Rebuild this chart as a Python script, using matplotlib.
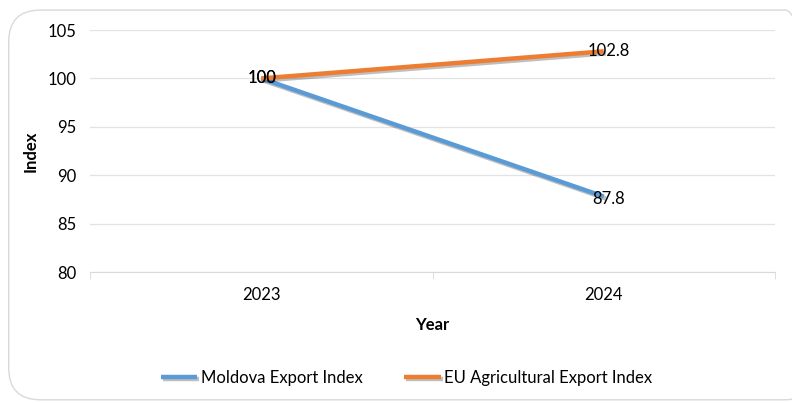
import matplotlib.pyplot as plt
import matplotlib.patheffects as pe
from matplotlib.patches import FancyBboxPatch

years = ["2023", "2024"]
moldova = [100, 87.8]
eu = [100, 102.8]
moldova_labels = ["100", "87.8"]
eu_labels = ["100", "102.8"]
yticks = [80, 85, 90, 95, 100, 105]

plt.rcParams['font.family'] = ['Lato', 'DejaVu Sans']
fs = 12

fig = plt.figure(figsize=(7.92, 4.03), dpi=100)
ax = fig.add_axes([0.1136, 0.325, 0.865, 0.6005])

# rounded outer frame
frame = FancyBboxPatch((0.011, 0.008), 1.02, 0.967, boxstyle="round,pad=0,rounding_size=0.04",
                       transform=fig.transFigure, fill=False, edgecolor='#d9d9d9', linewidth=1.0,
                       mutation_aspect=792 / 403)
fig.patches.append(frame)

shadow = [pe.SimpleLineShadow(offset=(1.5, -1.5), alpha=0.25, shadow_color='black'), pe.Normal()]
x = list(range(len(years)))
ax.plot(x, moldova, color='#5B9BD5', linewidth=3.2, label='Moldova Export Index',
        path_effects=shadow, solid_capstyle='butt')
ax.plot(x, eu, color='#ED7D31', linewidth=3.2, label='EU Agricultural Export Index',
        path_effects=shadow, solid_capstyle='butt')

ax.text(x[0] + 0.003, moldova[0], moldova_labels[0], ha='center', va='center', fontsize=fs)
ax.text(x[0] + 0.003, eu[0], eu_labels[0], ha='center', va='center', fontsize=fs)
ax.text(x[1] + 0.015, moldova[1] - 0.3, moldova_labels[1], ha='center', va='center', fontsize=fs)
ax.text(x[1] + 0.015, eu[1], eu_labels[1], ha='center', va='center', fontsize=fs)

ax.set_xlim(-0.5, 1.5)
ax.set_ylim(80, 105)
ax.set_yticks(yticks)
ax.set_xticks(x)
ax.set_xticklabels(years)
ax.set_xticks([-0.5, 0.5, 1.5], minor=True)
ax.tick_params(axis='x', which='major', length=0, pad=11, labelsize=fs)
ax.tick_params(axis='x', which='minor', length=5, color='#d9d9d9')
ax.tick_params(axis='y', length=0, pad=10, labelsize=fs)
ax.grid(axis='y', color='#e3e3e3', linewidth=0.9)
ax.set_axisbelow(True)
for s in ['top', 'right', 'left']:
    ax.spines[s].set_visible(False)
ax.spines['bottom'].set_color('#d9d9d9')

ax.set_xlabel('Year', fontweight='bold', fontsize=fs, labelpad=10)
ax.set_ylabel('Index', fontweight='bold', fontsize=fs, labelpad=6)

fig.legend(loc='center', bbox_to_anchor=(0.513, 0.062), ncol=2, frameon=False,
           fontsize=fs, handlelength=2.2, columnspacing=2.5, handletextpad=0.2)

fig.savefig('out.png', dpi=100)
